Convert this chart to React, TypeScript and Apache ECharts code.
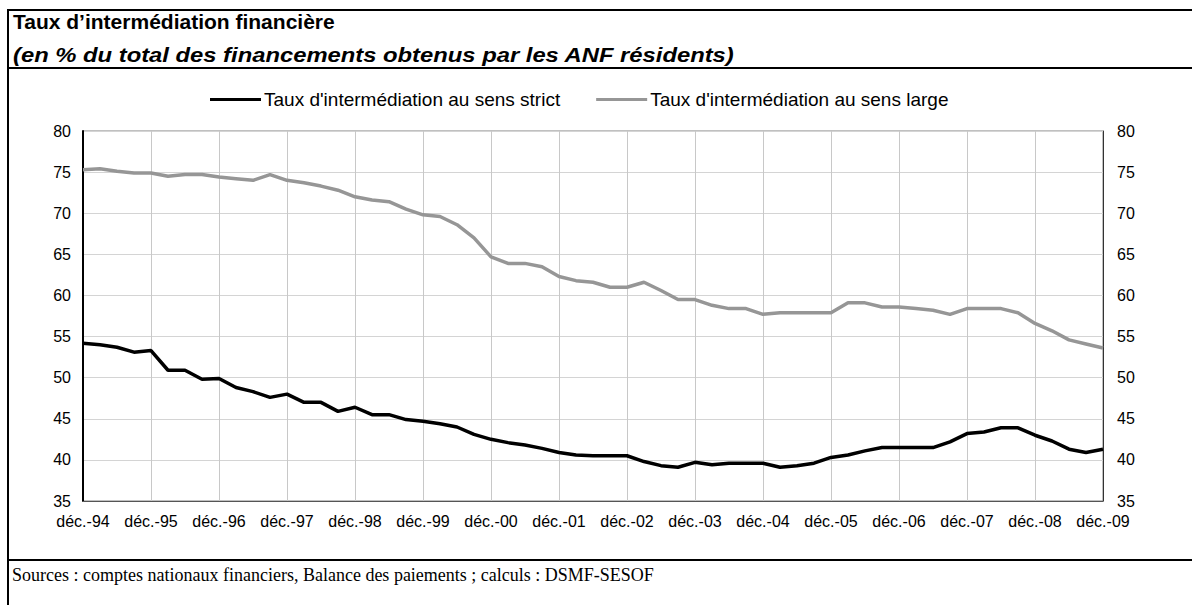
import React, { useEffect, useRef } from "react";
import * as echarts from "echarts";

const tickLabels = ["déc.-94", "déc.-95", "déc.-96", "déc.-97", "déc.-98", "déc.-99", "déc.-00", "déc.-01", "déc.-02", "déc.-03", "déc.-04", "déc.-05", "déc.-06", "déc.-07", "déc.-08", "déc.-09"];
const quarterPrefixes = ["mars-", "juin-", "sept.-"];

const strictValues = [54.2, 54.0, 53.7, 53.1, 53.3, 50.9, 50.9, 49.8, 49.9, 48.8, 48.3, 47.6, 48.0, 47.0, 47.0, 45.9, 46.4, 45.5, 45.5, 44.9, 44.7, 44.4, 44.0, 43.1, 42.5, 42.1, 41.8, 41.4, 40.9, 40.6, 40.5, 40.5, 40.5, 39.8, 39.3, 39.1, 39.7, 39.4, 39.6, 39.6, 39.6, 39.1, 39.3, 39.6, 40.3, 40.6, 41.1, 41.5, 41.5, 41.5, 41.5, 42.2, 43.2, 43.4, 43.9, 43.9, 43.0, 42.3, 41.3, 40.9, 41.3];
const largeValues = [75.3, 75.4, 75.1, 74.9, 74.9, 74.5, 74.7, 74.7, 74.4, 74.2, 74.0, 74.7, 74.0, 73.7, 73.3, 72.8, 72.0, 71.6, 71.4, 70.5, 69.8, 69.6, 68.6, 67.0, 64.7, 63.9, 63.9, 63.5, 62.3, 61.8, 61.6, 61.0, 61.0, 61.6, 60.6, 59.5, 59.5, 58.8, 58.4, 58.4, 57.7, 57.9, 57.9, 57.9, 57.9, 59.1, 59.1, 58.6, 58.6, 58.4, 58.2, 57.7, 58.4, 58.4, 58.4, 57.9, 56.6, 55.7, 54.6, 54.1, 53.6];

const seriesNames = ["Taux d'intermédiation au sens strict", "Taux d'intermédiation au sens large"];
const title = "Taux d’intermédiation financière";
const subtitle = "(en % du total des financements obtenus par les ANF résidents)";
const source = "Sources : comptes nationaux financiers, Balance des paiements ; calculs : DSMF-SESOF";

function buildCategories(): string[] {
  const cats: string[] = [];
  tickLabels.forEach((lab, i) => {
    cats.push(lab);
    if (i < tickLabels.length - 1) {
      const yy = tickLabels[i + 1].slice(-2);
      quarterPrefixes.forEach((p) => cats.push(p + yy));
    }
  });
  return cats;
}

export default function App() {
  const ref = useRef<HTMLDivElement>(null);
  useEffect(() => {
    if (!ref.current) return;
    const chart = echarts.init(ref.current, undefined, { renderer: "svg" });
    const categories = buildCategories();
    const font = "'Liberation Sans', Arial, sans-serif";
    const yAxisCommon = {
      type: "value",
      min: 35,
      max: 80,
      interval: 5,
      axisTick: { show: false },
    };
    chart.setOption({
      animation: false,
      backgroundColor: "#fff",
      grid: { left: 83, right: 89, top: 131, bottom: 104, show: true, borderColor: "#808080", borderWidth: 1 },
      legend: {
        left: 205,
        top: 85,
        itemWidth: 51,
        itemHeight: 3,
        itemGap: 36,
        icon: "rect",
        textStyle: { color: "#000", fontSize: 19, fontFamily: font, padding: [0, 0, 0, -2] },
        data: seriesNames,
      },
      xAxis: {
        type: "category",
        data: categories,
        boundaryGap: false,
        axisLine: { show: true, lineStyle: { color: "#555", width: 1 } },
        axisTick: { show: false },
        axisLabel: { interval: 3, color: "#000", fontSize: 16, fontFamily: font, margin: 12 },
        splitLine: { show: true, interval: 3, lineStyle: { color: "#c8c8c8", width: 1 } },
      },
      yAxis: [
        {
          ...yAxisCommon,
          position: "left",
          axisLine: { show: true, lineStyle: { color: "#000", width: 2 } },
          axisLabel: { color: "#000", fontSize: 16, fontFamily: font, margin: 12 },
          splitLine: { show: true, lineStyle: { color: "#d4d4d4", width: 1 } },
        },
        {
          ...yAxisCommon,
          position: "right",
          axisLine: { show: true, lineStyle: { color: "#333", width: 1 } },
          axisLabel: { color: "#000", fontSize: 16, fontFamily: font, margin: 14 },
          splitLine: { show: false },
        },
      ],
      series: [
        {
          name: seriesNames[0],
          type: "line",
          data: strictValues,
          showSymbol: false,
          symbol: "none",
          lineStyle: { color: "#000", width: 3.5 },
          itemStyle: { color: "#000" },
          z: 3,
        },
        {
          name: seriesNames[1],
          type: "line",
          data: largeValues,
          showSymbol: false,
          symbol: "none",
          lineStyle: { color: "#969696", width: 3.5 },
          itemStyle: { color: "#969696" },
          z: 2,
        },
      ],
      graphic: [
        { type: "line", shape: { x1: 7, y1: 10, x2: 1192, y2: 10 }, style: { stroke: "#000", lineWidth: 2 } },
        { type: "line", shape: { x1: 8, y1: 10, x2: 8, y2: 605 }, style: { stroke: "#000", lineWidth: 2 } },
        { type: "line", shape: { x1: 7, y1: 68, x2: 1192, y2: 68 }, style: { stroke: "#000", lineWidth: 2 } },
        { type: "line", shape: { x1: 7, y1: 560, x2: 1192, y2: 560 }, style: { stroke: "#000", lineWidth: 2 } },
        {
          type: "text",
          x: 13,
          y: 11,
          style: { text: title, fill: "#000", font: "bold 21px 'Liberation Sans', Arial, sans-serif", textVerticalAlign: "top" },
        },
        {
          type: "text",
          x: 13,
          y: 45,
          scaleX: 1.19,
          style: { text: subtitle, fill: "#000", font: "italic bold 20px 'Liberation Sans', Arial, sans-serif", textVerticalAlign: "top" },
        },
        {
          type: "text",
          x: 12,
          y: 566,
          style: { text: source, fill: "#000", font: "18px 'Liberation Serif', 'Times New Roman', serif", textVerticalAlign: "top" },
        },
      ],
    });
    return () => chart.dispose();
  }, []);
  return <div ref={ref} style={{ width: 1192, height: 605, position: "absolute", left: 0, top: 0 }} />;
}
